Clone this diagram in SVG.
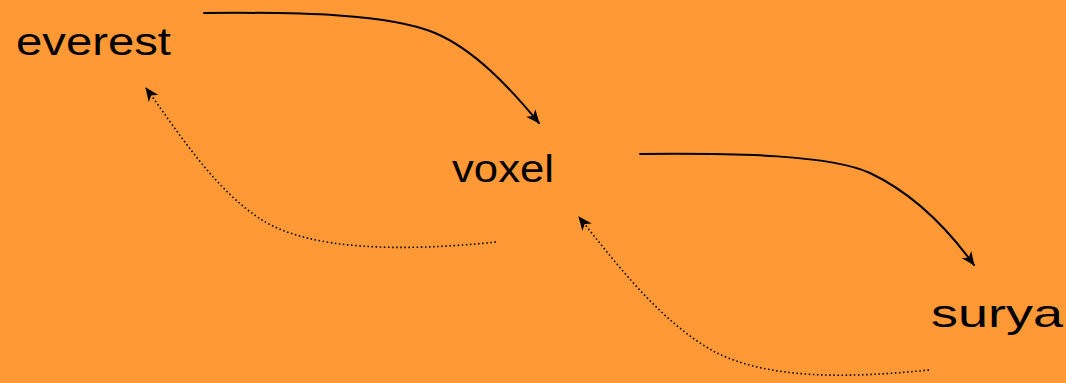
<svg xmlns="http://www.w3.org/2000/svg" width="1066" height="383" viewBox="0 0 1066 383">
<style>
.lbl{font-family:"Liberation Sans","DejaVu Sans",sans-serif;font-size:39px;fill:#000;}
.solid{fill:none;stroke:#000;stroke-width:2;stroke-linecap:round;}
.dot{fill:none;stroke:#000;stroke-width:1.6;stroke-dasharray:1.5 2.6;}
</style>
<defs>
<marker id="ah" viewBox="0 0 14 12" refX="13" refY="6" markerWidth="14" markerHeight="12" markerUnits="userSpaceOnUse" orient="auto">
<path d="M0,0 L14,6 L0,12 L4,6 Z" fill="#000"/>
</marker>
</defs>
<rect width="1066" height="383" fill="#fe9935"/>
<g id="connectors">
<path class="solid" d="M204,13 C300,12 390,14 435,33 C475,50 510,88 539,123" marker-end="url(#ah)"/>
<path class="solid" d="M640,154 C740,153 830,155 870,173 C910,192 945,225 974,265" marker-end="url(#ah)"/>
<path class="dot" d="M496,242 C400,252 310,250 262,220 C215,190 180,135 146,88" marker-end="url(#ah)"/>
<path class="dot" d="M929,370 C850,378 770,380 715,352 C660,322 615,262 579,217" marker-end="url(#ah)"/>
</g>
<g id="everest"><text class="lbl" x="16" y="55" textLength="155" lengthAdjust="spacingAndGlyphs">everest</text></g>
<g id="voxel"><text class="lbl" x="452" y="182" textLength="102" lengthAdjust="spacingAndGlyphs">voxel</text></g>
<g id="surya"><text class="lbl" x="931" y="327" textLength="132" lengthAdjust="spacingAndGlyphs">surya</text></g>
</svg>
